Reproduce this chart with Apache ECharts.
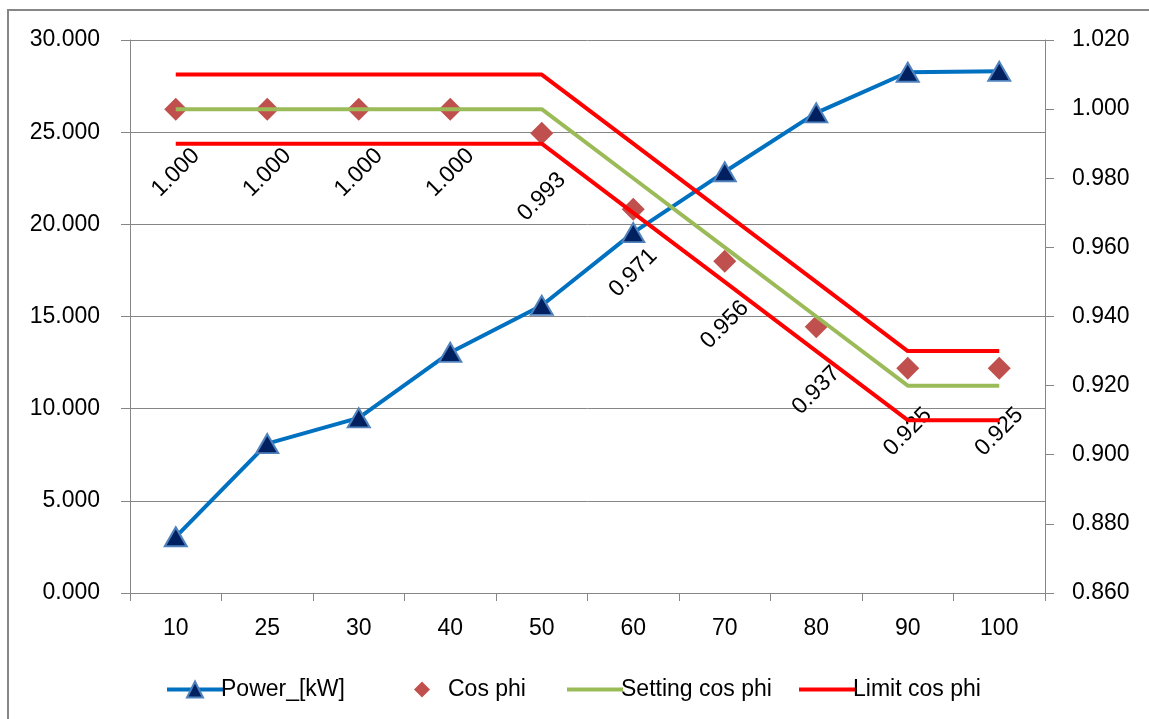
<!DOCTYPE html>
<html><head><meta charset="utf-8">
<script src="https://cdn.jsdelivr.net/npm/echarts@6/dist/echarts.min.js"></script>
<style>html,body{margin:0;padding:0;background:#fff}#c{width:1149px;height:719px}</style>
</head><body><div id="c"></div>
<script>
const categories = ['10','25','30','40','50','60','70','80','90','100'];
const power = [3.05, 8.1, 9.5, 13.05, 15.6, 19.55, 22.85, 26.05, 28.25, 28.3];
const cosPhi = [1.000, 1.000, 1.000, 1.000, 0.993, 0.971, 0.956, 0.937, 0.925, 0.925];
const settingCosPhi = [1.00, 1.00, 1.00, 1.00, 1.00, 0.98, 0.96, 0.94, 0.92, 0.92];
const limitUpper = [1.01, 1.01, 1.01, 1.01, 1.01, 0.99, 0.97, 0.95, 0.93, 0.93];
const limitLower = [0.99, 0.99, 0.99, 0.99, 0.99, 0.97, 0.95, 0.93, 0.91, 0.91];

const FONT = 'Liberation Sans';
const chart = echarts.init(document.getElementById('c'));
const axisGray = '#868686';
const BAR = 'path://M0,0L0.01,0ZM0,6L56,6L56,10L0,10ZM56,16L55.99,16Z';
const DIAMOND = 'path://M0,0L0.01,0ZM28,0L36,8L28,16L20,8ZM56,16L55.99,16Z';
function leg(name, left, icon, h) {
  return {
    top: 673, left: left, itemWidth: 56, itemHeight: h || 16, itemGap: 0,
    lineStyle: { width: 4 },
    textStyle: { fontFamily: FONT, fontSize: 23, color: '#000', padding: [0, 0, 0, -7] },
    data: [icon ? { name: name, icon: icon } : name]
  };
}
chart.setOption({
  animation: false,
  textStyle: { fontFamily: FONT },
  graphic: [{ type: 'rect', shape: { x: 8, y: 10, width: 1300, height: 900 }, style: { fill: 'none', stroke: axisGray, lineWidth: 2 }, silent: true }],
  grid: { left: 130, right: 104, top: 40, bottom: 126 },
  legend: [
    leg('Power_[kW]', 160, null, 20),
    leg('Cos phi', 389, DIAMOND),
    leg('Setting cos phi', 562, BAR),
    leg('Limit cos phi', 794, BAR)
  ],
  xAxis: {
    type: 'category', data: categories, boundaryGap: true,
    axisLine: { lineStyle: { color: axisGray, width: 1 } },
    axisTick: { show: true, length: 8, lineStyle: { color: axisGray } },
    axisLabel: { color: '#000', fontSize: 23, fontFamily: FONT, margin: 24 }
  },
  yAxis: [{
    type: 'value', min: 0, max: 30, interval: 5, position: 'left',
    axisLine: { show: true, lineStyle: { color: axisGray } },
    axisTick: { show: true, length: 9, lineStyle: { color: axisGray } },
    splitLine: { show: true, lineStyle: { color: axisGray, width: 1 } },
    axisLabel: { color: '#000', fontSize: 23, fontFamily: FONT, margin: 30, formatter: v => v.toFixed(3) }
  }, {
    type: 'value', min: 0.86, max: 1.02, interval: 0.02, position: 'right',
    axisLine: { show: true, lineStyle: { color: axisGray } },
    axisTick: { show: true, length: 9, lineStyle: { color: axisGray } },
    splitLine: { show: false },
    axisLabel: { color: '#000', fontSize: 23, fontFamily: FONT, margin: 27, formatter: v => v.toFixed(3) }
  }],
  series: [{
    name: 'Power_[kW]', type: 'line', yAxisIndex: 0, data: power, z: 2,
    lineStyle: { color: '#0070C0', width: 4 },
    itemStyle: { color: '#002060', borderColor: '#4F81BD', borderWidth: 2 },
    symbol: 'triangle', symbolSize: [22, 19], showAllSymbol: true
  }, {
    name: 'Cos phi', type: 'scatter', yAxisIndex: 1, data: cosPhi, z: 3,
    symbol: 'diamond', symbolSize: 23,
    itemStyle: { color: '#C0504D', opacity: 1 },
    label: {
      show: true, position: [11.5, 75], align: 'center', verticalAlign: 'middle', rotate: 45,
      color: '#000', fontSize: 23, fontFamily: FONT,
      formatter: p => p.value.toFixed(3)
    },
    labelLayout: { hideOverlap: false }
  }, {
    name: 'Setting cos phi', type: 'line', yAxisIndex: 1, data: settingCosPhi, z: 4,
    lineStyle: { color: '#9BBB59', width: 4 }, itemStyle: { color: '#9BBB59' }, symbol: 'none'
  }, {
    name: 'Limit cos phi', type: 'line', yAxisIndex: 1, data: limitUpper, z: 5,
    lineStyle: { color: '#FF0000', width: 4 }, itemStyle: { color: '#FF0000' }, symbol: 'none'
  }, {
    name: 'Limit cos phi', type: 'line', yAxisIndex: 1, data: limitLower, z: 5,
    lineStyle: { color: '#FF0000', width: 4 }, itemStyle: { color: '#FF0000' }, symbol: 'none'
  }]
});
</script></body></html>
